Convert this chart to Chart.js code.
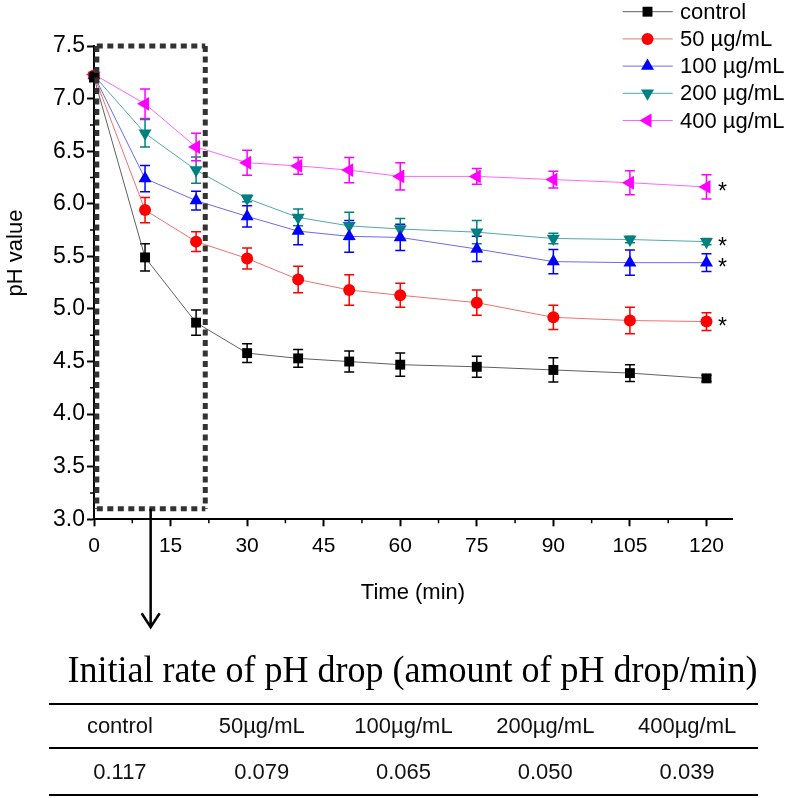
<!DOCTYPE html>
<html>
<head>
<meta charset="utf-8">
<title>pH drop over time</title>
<script src="https://cdn.jsdelivr.net/npm/chart.js@4.4.0/dist/chart.umd.min.js"></script>
<style>
    body { margin: 0; background: #fff; }
    #wrap { position: relative; width: 787px; height: 798px; overflow: hidden; }
    #phChart { position: absolute; left: 0; top: 0; }
    #rateTitle {
        position: absolute; left: 38px; top: 651px; width: 749px;
        text-align: center; white-space: nowrap; color: #000;
        font-family: "Liberation Serif", "Times New Roman", serif;
        font-size: 36px; line-height: 36px;
        transform: scaleY(1.06);
    }
    #rateTable {
        position: absolute; left: 49px; top: 703px; width: 709px;
        border-top: 2px solid #000; color: #111;
        font-family: "Liberation Sans", Arial, sans-serif; font-size: 22px;
    }
    #rateTable .row { display: flex; }
    #rateTable .row div { flex: 1; text-align: center; }
    #rateTable .head { height: 42px; line-height: 42px; border-bottom: 2px solid #000; }
    #rateTable .vals { height: 45px; line-height: 45px; border-bottom: 2px solid #000; }
</style>
</head>
<body>
<div id="wrap">
    <canvas id="phChart" width="787" height="798"></canvas>
    <div id="rateTitle">Initial rate of pH drop (amount of pH drop/min)</div>
    <div id="rateTable">
        <div class="row head" id="headRow"></div>
        <div class="row vals" id="valRow"></div>
    </div>
</div>
<script>
// Data
const times = [0, 10, 20, 30, 40, 50, 60, 75, 90, 105, 120];
const seriesNames = ['control', '50 µg/mL', '100 µg/mL', '200 µg/mL', '400 µg/mL'];

const phControl = [7.20, 5.49, 4.87, 4.58, 4.53, 4.50, 4.47, 4.45, 4.42, 4.39, 4.34];
const ph50 = [7.22, 5.94, 5.64, 5.48, 5.28, 5.18, 5.13, 5.06, 4.92, 4.89, 4.88];
const ph100 = [7.22, 6.24, 6.03, 5.88, 5.74, 5.69, 5.68, 5.57, 5.45, 5.44, 5.44];
const ph200 = [7.22, 6.67, 6.32, 6.05, 5.87, 5.79, 5.76, 5.73, 5.67, 5.66, 5.64];
const ph400 = [7.23, 6.95, 6.54, 6.39, 6.36, 6.32, 6.26, 6.26, 6.23, 6.20, 6.16];

const errControl = [0, 0.13, 0.12, 0.09, 0.085, 0.10, 0.11, 0.10, 0.115, 0.08, 0.03];
const err50 = [0, 0.12, 0.095, 0.10, 0.125, 0.145, 0.115, 0.12, 0.115, 0.125, 0.085];
const err100 = [0, 0.125, 0.09, 0.10, 0.13, 0.15, 0.125, 0.12, 0.115, 0.12, 0.085];
const err200 = [0, 0.13, 0.125, 0.03, 0.08, 0.13, 0.10, 0.11, 0.05, 0.03, 0.03];
const err400 = [0, 0.14, 0.13, 0.12, 0.08, 0.12, 0.13, 0.075, 0.08, 0.115, 0.115];

const significant = [false, true, true, true, true];

const xTickValues = [0, 15, 30, 45, 60, 75, 90, 105, 120];
const yTickValues = [3.0, 3.5, 4.0, 4.5, 5.0, 5.5, 6.0, 6.5, 7.0, 7.5];

const rateGroups = ['control', '50µg/mL', '100µg/mL', '200µg/mL', '400µg/mL'];
const rateValues = ['0.117', '0.079', '0.065', '0.050', '0.039'];

// dotted box around the first 20 min (data units)
const boxRange = { x0: 0.55, x1: 21.8, y0: 7.5, y1: 3.1 };
const arrowX = 11.1;

const allValues = [phControl, ph50, ph100, ph200, ph400];
const allErrors = [errControl, err50, err100, err200, err400];

// Styles
const seriesStyles = [
    { color: '#000000', line: '#606060', pointStyle: 'rect', radius: 7, rotation: 0 },
    { color: '#ff0000', line: '#f07070', pointStyle: 'circle', radius: 6, rotation: 0 },
    { color: '#0000ff', line: '#6a6af0', pointStyle: 'triangle', radius: 7.5, rotation: 0 },
    { color: '#008080', line: '#50a8a8', pointStyle: 'triangle', radius: 7.5, rotation: 180 },
    { color: '#ff00ff', line: '#ff66ff', pointStyle: 'triangle', radius: 8, rotation: -90 }
];
const fontFamily = '"Liberation Sans", Arial, sans-serif';

// table under the chart
document.getElementById('headRow').innerHTML = rateGroups.map(g => '<div>' + g + '</div>').join('');
document.getElementById('valRow').innerHTML = rateValues.map(v => '<div>' + v + '</div>').join('');

function drawMarker(ctx, st, x, y) {
    ctx.save();
    ctx.fillStyle = st.color;
    ctx.beginPath();
    const r = st.radius;
    if (st.pointStyle === 'rect') {
        const s = r * Math.SQRT1_2;
        ctx.rect(x - s, y - s, 2 * s, 2 * s);
    } else if (st.pointStyle === 'circle') {
        ctx.arc(x, y, r, 0, Math.PI * 2);
    } else {
        const a = st.rotation * Math.PI / 180;
        for (let k = 0; k < 3; k++) {
            const ang = a + k * 2 * Math.PI / 3;
            const px = x + Math.sin(ang) * r, py = y - Math.cos(ang) * r;
            if (k === 0) ctx.moveTo(px, py); else ctx.lineTo(px, py);
        }
        ctx.closePath();
    }
    ctx.fill();
    ctx.restore();
}

const extras = {
    id: 'extras',
    beforeDatasetsDraw(chart) {
        // error bars
        const ctx = chart.ctx, ys = chart.scales.y;
        ctx.save();
        chart.data.datasets.forEach((ds, i) => {
            const meta = chart.getDatasetMeta(i);
            ctx.strokeStyle = seriesStyles[i].color;
            ctx.lineWidth = 1.5;
            meta.data.forEach((pt, j) => {
                const e = allErrors[i][j];
                if (!e) return;
                const v = ds.data[j].y;
                const top = ys.getPixelForValue(v + e), bot = ys.getPixelForValue(v - e);
                ctx.beginPath();
                ctx.moveTo(pt.x, top); ctx.lineTo(pt.x, bot);
                ctx.moveTo(pt.x - 5, top); ctx.lineTo(pt.x + 5, top);
                ctx.moveTo(pt.x - 5, bot); ctx.lineTo(pt.x + 5, bot);
                ctx.stroke();
            });
        });
        ctx.restore();
    },
    afterDraw(chart) {
        const ctx = chart.ctx, xs = chart.scales.x, ys = chart.scales.y;
        const area = chart.chartArea;
        ctx.save();

        // y axis title, sits a bit above the middle of the axis
        ctx.save();
        ctx.translate(16, 253);
        ctx.rotate(-Math.PI / 2);
        ctx.fillStyle = '#000';
        ctx.font = '22px ' + fontFamily;
        ctx.textAlign = 'center';
        ctx.textBaseline = 'middle';
        ctx.fillText('pH value', 0, 0);
        ctx.restore();

        // minor ticks
        ctx.strokeStyle = '#000';
        ctx.lineWidth = 1.5;
        ctx.beginPath();
        for (let i = 0; i < xTickValues.length; i++) {
            const m = xTickValues[i] + 7.5;
            if (m > xs.max) break;
            const px = xs.getPixelForValue(m);
            ctx.moveTo(px, area.bottom); ctx.lineTo(px, area.bottom + 4);
        }
        for (let i = 0; i < yTickValues.length - 1; i++) {
            const py = ys.getPixelForValue(yTickValues[i] + 0.25);
            ctx.moveTo(area.left, py); ctx.lineTo(area.left - 4, py);
        }
        ctx.stroke();

        // dotted box
        const bx0 = xs.getPixelForValue(boxRange.x0), bx1 = xs.getPixelForValue(boxRange.x1);
        const by0 = ys.getPixelForValue(boxRange.y0), by1 = ys.getPixelForValue(boxRange.y1);
        ctx.strokeStyle = '#333';
        ctx.lineWidth = 5;
        ctx.setLineDash([6, 4.5]);
        [[bx0, by0, bx1, by0], [bx1, by0, bx1, by1], [bx0, by1, bx1, by1], [bx0, by0, bx0, by1]].forEach(s => {
            ctx.beginPath(); ctx.moveTo(s[0], s[1]); ctx.lineTo(s[2], s[3]); ctx.stroke();
        });
        ctx.setLineDash([]);

        // arrow down to the table
        const ax = xs.getPixelForValue(arrowX), tip = area.bottom + 108;
        ctx.strokeStyle = '#000';
        ctx.lineWidth = 2.5;
        ctx.beginPath();
        ctx.moveTo(ax, by1); ctx.lineTo(ax, tip);
        ctx.moveTo(ax - 9, tip - 14); ctx.lineTo(ax, tip); ctx.lineTo(ax + 9, tip - 14);
        ctx.stroke();

        // significance stars
        ctx.fillStyle = '#000';
        ctx.font = '23px ' + fontFamily;
        ctx.textAlign = 'center';
        ctx.textBaseline = 'alphabetic';
        chart.data.datasets.forEach((ds, i) => {
            if (!significant[i]) return;
            const meta = chart.getDatasetMeta(i);
            const last = meta.data[meta.data.length - 1];
            ctx.fillText('*', last.x + 16, last.y + 12);
        });

        // legend
        ctx.font = '22px ' + fontFamily;
        ctx.textAlign = 'left';
        ctx.textBaseline = 'middle';
        seriesNames.forEach((name, i) => {
            const ly = 11.7 + i * 27.2;
            ctx.strokeStyle = seriesStyles[i].line;
            ctx.lineWidth = 1;
            ctx.beginPath(); ctx.moveTo(622.7, ly); ctx.lineTo(672.7, ly); ctx.stroke();
            drawMarker(ctx, seriesStyles[i], 647.5, ly);
            ctx.fillStyle = '#000';
            ctx.fillText(name, 680, ly + 1);
        });
        ctx.restore();
    }
};

const datasets = allValues.map((vals, i) => ({
    label: seriesNames[i],
    data: times.map((t, k) => ({ x: t, y: vals[k] })),
    borderColor: seriesStyles[i].line,
    borderWidth: 1,
    backgroundColor: seriesStyles[i].color,
    pointBackgroundColor: seriesStyles[i].color,
    pointBorderColor: seriesStyles[i].color,
    pointBorderWidth: 0,
    pointStyle: seriesStyles[i].pointStyle,
    pointRadius: seriesStyles[i].radius,
    pointRotation: seriesStyles[i].rotation,
    tension: 0,
    fill: false,
    clip: false
}));

new Chart(document.getElementById('phChart'), {
    type: 'line',
    data: { datasets: datasets },
    plugins: [extras],
    options: {
        responsive: false,
        animation: false,
        devicePixelRatio: 1,
        events: [],
        layout: { padding: { top: 46, left: 0, right: 55, bottom: 188.7 } },
        plugins: { legend: { display: false }, tooltip: { enabled: false } },
        scales: {
            x: {
                type: 'linear',
                min: 0,
                max: 125,
                afterBuildTicks: scale => { scale.ticks = xTickValues.map(v => ({ value: v })); },
                afterFit: scale => { scale.height = 90; },
                grid: { drawOnChartArea: false, tickLength: 7, tickWidth: 2, tickColor: '#000' },
                border: { display: true, color: '#000', width: 2 },
                ticks: { color: '#000', padding: 7, font: { family: fontFamily, size: 21 } },
                title: {
                    display: true, text: 'Time (min)', color: '#000',
                    font: { family: fontFamily, size: 22 }, padding: { top: 0, bottom: 3 }
                }
            },
            y: {
                min: 3,
                max: 7.5,
                afterBuildTicks: scale => { scale.ticks = yTickValues.map(v => ({ value: v })); },
                afterFit: scale => { scale.width = 94; },
                grid: { drawOnChartArea: false, tickLength: 7, tickWidth: 2, tickColor: '#000' },
                border: { display: true, color: '#000', width: 2 },
                ticks: {
                    color: '#000', padding: 2, font: { family: fontFamily, size: 23 },
                    callback: v => Number(v).toFixed(1)
                },
                title: { display: false }
            }
        }
    }
});
</script>
</body>
</html>
